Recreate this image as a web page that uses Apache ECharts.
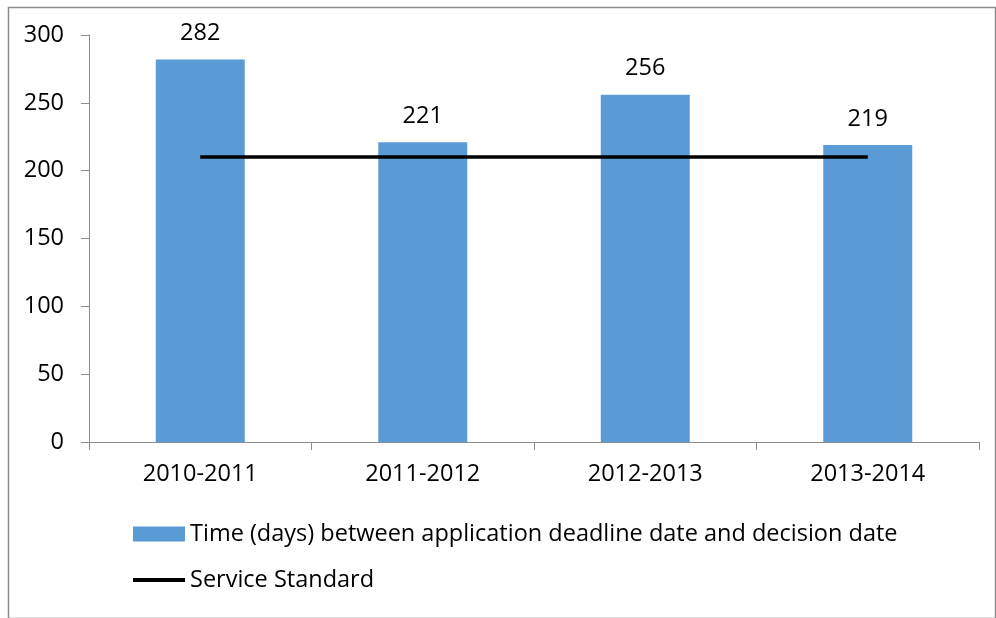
<!DOCTYPE html>
<html>
<head>
<meta charset="utf-8">
<script src="https://cdn.jsdelivr.net/npm/echarts@6/dist/echarts.min.js"></script>
<style>html,body{margin:0;padding:0;background:#fff;}#c{width:996px;height:618px;}</style>
</head>
<body>
<div id="c"></div>
<script>
const categories = ['2010-2011', '2011-2012', '2012-2013', '2013-2014'];
const daysValues = [282, 221, 256, 219];
const standardValues = [210, 210, 210, 210];
const barName = 'Time (days) between application deadline date and decision date';
const lineName = 'Service Standard';
const yTicks = { min: 0, max: 300, interval: 50 };

const FONT = 'Open Sans';
const FS = 23.5;
const chart = echarts.init(document.getElementById('c'), null, { renderer: 'canvas' });
chart.setOption({
  animation: false,
  backgroundColor: '#fff',
  textStyle: { fontFamily: FONT, color: '#000' },
  graphic: [{
    type: 'rect', left: 6, top: 5, silent: true,
    shape: { x: 0, y: 0, width: 987, height: 611 },
    style: { fill: 'none', stroke: '#8c8c8c', lineWidth: 1.5 }
  }],
  grid: { left: 89, right: 17, top: 35, bottom: 176, containLabel: false },
  legend: {
    orient: 'vertical', left: 126, top: 517,
    itemWidth: 52, itemHeight: 15, itemGap: 22,
    textStyle: { fontFamily: FONT, fontSize: FS, color: '#000' },
    data: [
      { name: barName, icon: 'rect' },
      { name: lineName, itemStyle: { opacity: 0 }, lineStyle: { width: 4, color: '#000' } }
    ]
  },
  xAxis: {
    type: 'category', data: categories,
    axisLine: { lineStyle: { color: '#8c8c8c', width: 1 } },
    axisTick: { show: true, length: 8, alignWithLabel: false, lineStyle: { color: '#8c8c8c' } },
    axisLabel: { fontFamily: FONT, fontSize: FS, color: '#000', margin: 20 }
  },
  yAxis: {
    type: 'value', min: yTicks.min, max: yTicks.max, interval: yTicks.interval,
    splitLine: { show: false },
    axisLine: { show: true, lineStyle: { color: '#8c8c8c', width: 1 } },
    axisTick: { show: true, length: 8, lineStyle: { color: '#8c8c8c' } },
    axisLabel: { fontFamily: FONT, fontSize: FS, color: '#000', margin: 25 }
  },
  series: [
    {
      name: barName, type: 'bar', data: daysValues, barWidth: '40%',
      itemStyle: { color: '#5B9BD5' },
      label: { show: true, position: 'top', distance: 14, fontFamily: FONT, fontSize: FS, color: '#000' }
    },
    {
      name: lineName, type: 'line', data: standardValues,
      symbol: 'none', showSymbol: false,
      lineStyle: { color: '#000', width: 3.5 },
      itemStyle: { color: '#000' }
    }
  ]
});
</script>
</body>
</html>
